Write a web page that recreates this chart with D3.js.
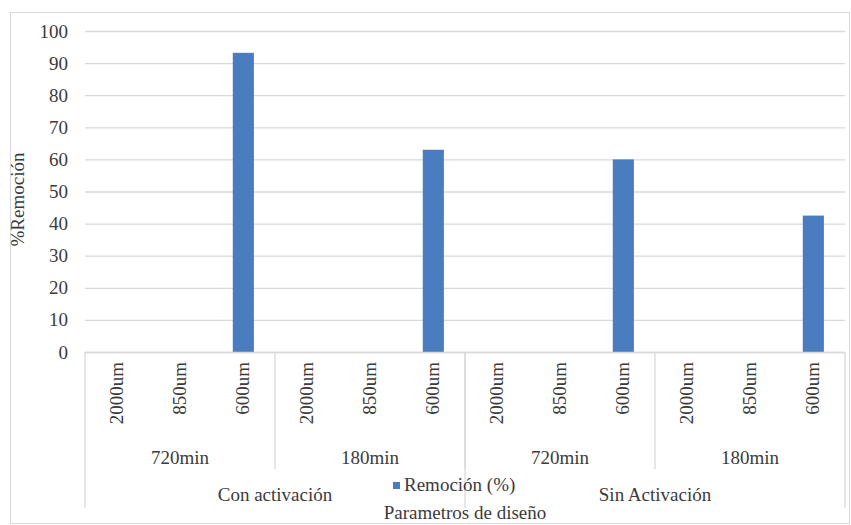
<!DOCTYPE html>
<html>
<head>
<meta charset="utf-8">
<script src="https://cdn.jsdelivr.net/npm/d3@7"></script>
<style>
  body { margin: 0; background: #fff; }
</style>
</head>
<body>
<script>
// data
var activacion = ['Con activación', 'Sin Activación']
var tiempos = ['720min', '180min']
var tamanos = ['2000um', '850um', '600um']
var remocion = [0, 0, 93.2, 0, 0, 63, 0, 0, 60, 0, 0, 42.5]
var yTicks = [0, 10, 20, 30, 40, 50, 60, 70, 80, 90, 100]
var seriesName = 'Remoción (%)'

var FONT = '"Liberation Serif", "Times New Roman", "DejaVu Serif", serif'
var INK = '#3b3b3b'
var FS = 19

var svgWidth = 851, svgHeight = 525
var margin = {top: 31, left: 85, right: 6, bottom: 173}
var plotBottom = svgHeight - margin.bottom

// build the flat category list: activacion > tiempo > tamano
var cats = []
activacion.forEach(function(a, ai) {
  tiempos.forEach(function(t, ti) {
    tamanos.forEach(function(s, si) {
      cats.push({key: ai + '|' + ti + '|' + si, a: a, t: t, s: s})
    })
  })
})
cats.forEach(function(c, i) { c.value = remocion[i] })

var svg = d3.select('body').append('svg')
  .attr('width', svgWidth)
  .attr('height', svgHeight)
  .attr('font-family', FONT)
  .attr('font-size', FS)
  .attr('fill', INK)

// outer chart border
svg.append('rect')
  .attr('x', 10.5).attr('y', 12.5)
  .attr('width', 839).attr('height', 511)
  .attr('fill', 'none').attr('stroke', '#d9d9d9')

var xScale = d3.scaleBand()
  .domain(cats.map(function(d) { return d.key }))
  .range([margin.left, svgWidth - margin.right])

var yScale = d3.scaleLinear()
  .domain([0, 100])
  .range([plotBottom, margin.top])

// gridlines + tick labels
var yAxis = d3.axisLeft(yScale)
  .tickValues(yTicks)
  .tickSize(-(svgWidth - margin.right - margin.left))
  .tickPadding(17)

var gy = svg.append('g')
  .attr('transform', 'translate(' + margin.left + ',0)')
  .call(yAxis)
  .attr('font-family', FONT)
  .attr('font-size', FS)
gy.select('.domain').remove()
gy.selectAll('line').attr('stroke', '#d9d9d9').attr('stroke-width', 1.3)
gy.selectAll('text').attr('fill', INK)

// bars
var bw = xScale.bandwidth()
svg.selectAll('rect.bar')
  .data(cats)
  .enter().append('rect')
    .attr('class', 'bar')
    .attr('x', function(d) { return xScale(d.key) + bw / 3 })
    .attr('width', bw / 3)
    .attr('y', function(d) { return yScale(d.value) })
    .attr('height', function(d) { return plotBottom - yScale(d.value) })
    .attr('fill', '#4a7dc0')

// x axis line
svg.append('line')
  .attr('x1', margin.left).attr('x2', svgWidth - margin.right)
  .attr('y1', plotBottom + 0.5).attr('y2', plotBottom + 0.5)
  .attr('stroke', '#d9d9d9').attr('stroke-width', 1.3)

// level 1: sizes, rotated
svg.selectAll('text.size')
  .data(cats)
  .enter().append('text')
    .attr('class', 'size')
    .attr('transform', function(d) {
      return 'translate(' + (xScale(d.key) + bw / 2 + 6) + ',' + (plotBottom + 10) + ') rotate(-90)'
    })
    .attr('text-anchor', 'end')
    .text(function(d) { return d.s })

// level 2: tiempos
var nT = tamanos.length
var groups2 = []
for (var g = 0; g < cats.length / nT; g++) {
  groups2.push({x0: xScale(cats[g * nT].key), x1: xScale(cats[g * nT + nT - 1].key) + bw, label: cats[g * nT].t})
}
svg.selectAll('text.tiempo')
  .data(groups2)
  .enter().append('text')
    .attr('class', 'tiempo')
    .attr('x', function(d) { return (d.x0 + d.x1) / 2 })
    .attr('y', 464)
    .attr('text-anchor', 'middle')
    .text(function(d) { return d.label })

svg.selectAll('line.sep2')
  .data(groups2.slice(1))
  .enter().append('line')
    .attr('class', 'sep2')
    .attr('x1', function(d) { return d.x0 }).attr('x2', function(d) { return d.x0 })
    .attr('y1', plotBottom).attr('y2', 469)
    .attr('stroke', '#d9d9d9').attr('stroke-width', 1.3)

// level 3: activacion
var nA = tiempos.length * tamanos.length
var groups3 = activacion.map(function(a, i) {
  return {x0: xScale(cats[i * nA].key), x1: xScale(cats[i * nA + nA - 1].key) + bw, label: a}
})
svg.selectAll('text.activ')
  .data(groups3)
  .enter().append('text')
    .attr('class', 'activ')
    .attr('x', function(d) { return (d.x0 + d.x1) / 2 })
    .attr('y', 501)
    .attr('text-anchor', 'middle')
    .text(function(d) { return d.label })

var sep3 = [groups3[0].x0, groups3[1].x0, groups3[1].x1]
svg.selectAll('line.sep3')
  .data(sep3)
  .enter().append('line')
    .attr('class', 'sep3')
    .attr('x1', function(d) { return d }).attr('x2', function(d) { return d })
    .attr('y1', plotBottom).attr('y2', 508)
    .attr('stroke', '#d9d9d9').attr('stroke-width', 1.3)

// legend
var lg = svg.append('g').attr('transform', 'translate(393,491)')
lg.append('rect')
  .attr('x', 0).attr('y', -9).attr('width', 7).attr('height', 7)
  .attr('fill', '#4a7dc0')
lg.append('text')
  .attr('x', 11).attr('y', 0)
  .text(seriesName)

// axis titles
svg.append('text')
  .attr('x', 465)
  .attr('y', 519)
  .attr('text-anchor', 'middle')
  .text('Parametros de diseño')

svg.append('text')
  .attr('transform', 'translate(24,' + ((margin.top + plotBottom) / 2 + 8) + ') rotate(-90)')
  .attr('text-anchor', 'middle')
  .text('%Remoción')
</script>
</body>
</html>
